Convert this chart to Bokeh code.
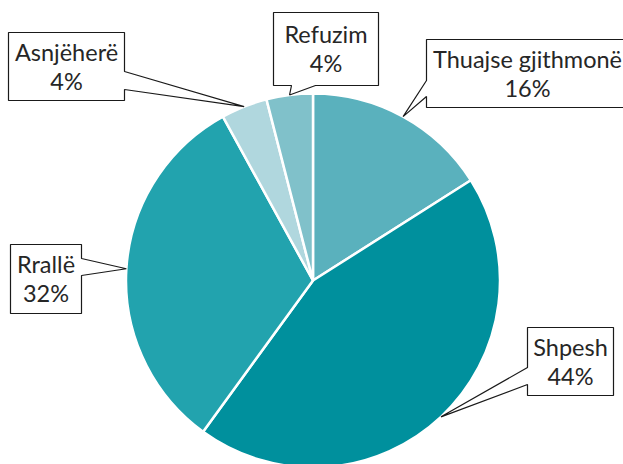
import numpy as np
from bokeh.plotting import figure
from bokeh.models import Range1d, ColumnDataSource
from bokeh.core.properties import value
from bokeh.embed import file_html
from bokeh.resources import INLINE

# ---- data ----
categories = ["Thuajse gjithmonë", "Shpesh", "Rrallë", "Asnjëherë", "Refuzim"]
values = [16, 44, 32, 4, 4]
colors = ["#5ab1bd", "#00909d", "#22a3ae", "#b0d7de", "#80c1ca"]

# ---- layout (page pixels) ----
W, H = 623, 464
OFF = 0
CX, CY, R = 312.5, 280.0, 187.0  # pie centre / radius in page px
# callout boxes: (x0, y0, x1, y1, side, b1, b2, text_cx)
callouts = {
    "Thuajse gjithmonë": (426, 39, 628, 107, "left", 80, 96, 527),
    "Shpesh": (527, 327, 613, 395, "left", 367, 384, 570),
    "Rrallë": (10, 244, 81, 313, "right", 258, 275, 45.5),
    "Asnjëherë": (8, 32, 124, 100, "right", 71, 89, 66),
    "Refuzim": (273, 12, 378, 85, "bottom", 291, 315, 325.5),
}


def tx(x):
    return x - OFF


def ty(y):
    return (H + OFF) - y


p = figure(width=W, height=H, output_backend="svg", toolbar_location=None,
           x_range=Range1d(0, W), y_range=Range1d(0, H), min_border=0)
p.axis.visible = False
p.grid.visible = False
p.outline_line_color = None
p.background_fill_color = "white"

vals = np.array(values, dtype=float)
frac = vals / vals.sum()
cum_end = np.cumsum(frac)
cum_start = cum_end - frac
start_angle = np.pi / 2 - 2 * np.pi * cum_end
end_angle = np.pi / 2 - 2 * np.pi * cum_start

src = ColumnDataSource(dict(start=start_angle, end=end_angle, color=colors, cat=categories))
p.wedge(x=tx(CX), y=ty(CY), radius=R, start_angle="start", end_angle="end",
        fill_color="color", line_color="white", line_width=2.5, source=src)

# callouts
xs, ys = [], []
t1x, t1y, t1 = [], [], []
t2x, t2y, t2 = [], [], []
for i, cat in enumerate(categories):
    x0, y0, x1, y1, side, b1, b2, tcx = callouts[cat]
    mid = 2 * np.pi * (cum_start[i] + cum_end[i]) / 2
    tipx = CX + R * np.sin(mid)
    tipy = CY - R * np.cos(mid)
    pts = [(x0, y0), (x1, y0)]
    if side == "right":
        pts += [(x1, b1), (tipx, tipy), (x1, b2)]
    pts += [(x1, y1)]
    if side == "bottom":
        pts += [(b2, y1), (tipx, tipy), (b1, y1)]
    pts += [(x0, y1)]
    if side == "left":
        pts += [(x0, b2), (tipx, tipy), (x0, b1)]
    xs.append([tx(a) for a, b in pts])
    ys.append([ty(b) for a, b in pts])
    cy = (y0 + y1) / 2
    t1x.append(tx(tcx)); t1y.append(ty(cy - 15)); t1.append(cat)
    t2x.append(tx(tcx)); t2y.append(ty(cy + 14)); t2.append(f"{values[i]:.0f}%")

p.patches(xs, ys, fill_color="white", line_color="#1a1a1a", line_width=1.2)
for X, Y, T in ((t1x, t1y, t1), (t2x, t2y, t2)):
    p.text(x=X, y=Y, text=T, text_font=value("Lato"), text_font_size="23.5px",
           text_align="center", text_baseline="middle", text_color="#262626")

open("out.html", "w").write(file_html(p, INLINE))
